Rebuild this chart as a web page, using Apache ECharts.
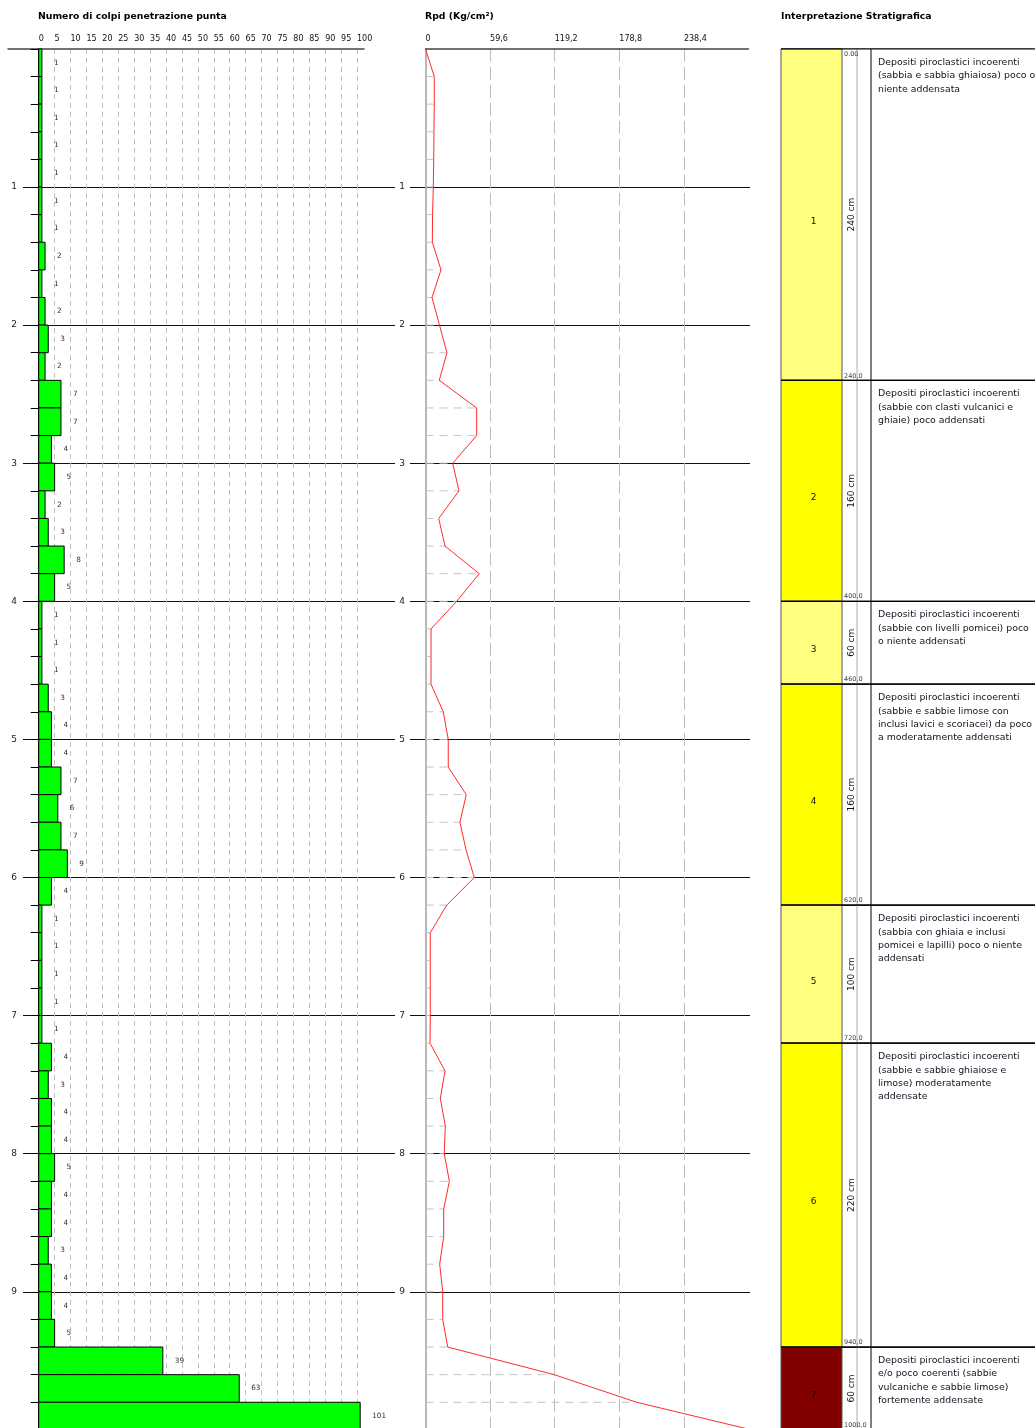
<!DOCTYPE html>
<html><head><meta charset="utf-8">
<script src="https://cdn.jsdelivr.net/npm/echarts@6/dist/echarts.min.js"></script>
<style>html,body{margin:0;padding:0;background:#fff}#c{width:1035px;height:1428px}</style>
</head><body><div id="c"></div>
<script>
// ---- DATA ----
const intervalTop = [0,0.2,0.4,0.6,0.8,1.0,1.2,1.4,1.6,1.8,2.0,2.2,2.4,2.6,2.8,3.0,3.2,3.4,3.6,3.8,4.0,4.2,4.4,4.6,4.8,5.0,5.2,5.4,5.6,5.8,6.0,6.2,6.4,6.6,6.8,7.0,7.2,7.4,7.6,7.8,8.0,8.2,8.4,8.6,8.8,9.0,9.2,9.4,9.6,9.8];
const intervalBottom = [0.2,0.4,0.6,0.8,1.0,1.2,1.4,1.6,1.8,2.0,2.2,2.4,2.6,2.8,3.0,3.2,3.4,3.6,3.8,4.0,4.2,4.4,4.6,4.8,5.0,5.2,5.4,5.6,5.8,6.0,6.2,6.4,6.6,6.8,7.0,7.2,7.4,7.6,7.8,8.0,8.2,8.4,8.6,8.8,9.0,9.2,9.4,9.6,9.8,10.0];
const blows = [1,1,1,1,1, 1,1,2,1,2, 3,2,7,7,4, 5,2,3,8,5, 1,1,1,3,4, 4,7,6,7,9, 4,1,1,1,1, 1,4,3,4,4, 5,4,4,3,4, 4,5,39,63,101];
const rpdDepth = [0,0.2,0.4,0.6,0.8,1.0,1.2,1.4,1.6,1.8,2.0,2.2,2.4,2.6,2.8,3.0,3.2,3.4,3.6,3.8,4.0,4.2,4.4,4.6,4.8,5.0,5.2,5.4,5.6,5.8,6.0,6.2,6.4,6.6,6.8,7.0,7.2,7.4,7.6,7.8,8.0,8.2,8.4,8.6,8.8,9.0,9.2,9.4,9.6,9.8,10.0];
const rpd = [0, 8.1,8.1,7.8,7.6,7.2, 6.5,6.3,14.3,6.0,12.9, 19.8,12.7,47.2,47.2,25.1, 30.9,12.2,18.0,49.6,28.8, 5.1,5.1,5.1,16.4,21.0, 21.0,37.6,31.8,37.4,45.0, 19.6,4.4,4.4,4.4,4.4, 4.2,18.0,13.7,18.3,17.3, 22.0,16.8,16.8,13.1,15.9, 15.9,20.5,118.8,194.8,301];
const blowTicks = [0,5,10,15,20,25,30,35,40,45,50,55,60,65,70,75,80,85,90,95,100];
const rpdTicks = [0,59.6,119.2,178.8,238.4];
const depthLabels = [1,2,3,4,5,6,7,8,9];
const layerNum = [1,2,3,4,5,6,7];
const layerTop = [0,240,400,460,620,720,940];
const layerBottom = [240,400,460,620,720,940,1000];
const layerText = [
 'Depositi piroclastici incoerenti\n(sabbia e sabbia ghiaiosa) poco o\nniente addensata',
 'Depositi piroclastici incoerenti\n(sabbie con clasti vulcanici e\nghiaie) poco addensati',
 'Depositi piroclastici incoerenti\n(sabbie con livelli pomicei) poco\no niente addensati',
 'Depositi piroclastici incoerenti\n(sabbie e sabbie limose con\ninclusi lavici e scoriacei) da poco\na moderatamente addensati',
 'Depositi piroclastici incoerenti\n(sabbia con ghiaia e inclusi\npomicei e lapilli) poco o niente\naddensati',
 'Depositi piroclastici incoerenti\n(sabbie e sabbie ghiaiose e\nlimose) moderatamente\naddensate',
 'Depositi piroclastici incoerenti\ne/o poco coerenti (sabbie\nvulcaniche e sabbie limose)\nfortemente addensate'
];
// ---- STYLE ----
const layerColor = ['#ffff80','#ffff00','#ffff80','#ffff00','#ffff80','#ffff00','#800000'];
const layerNumColor = ['#111','#111','#111','#111','#111','#111','#2a0000'];
const FF = 'DejaVu Sans';
const TOP = 48.9, H = 1381;

const chart = echarts.init(document.getElementById('c'), null, {renderer:'canvas'});
const g = (left, width) => ({left, width, top: TOP, height: H, containLabel:false, outerBoundsMode:'none'});
const hidX = (gi) => ({type:'value', gridIndex:gi, min:0, max:1, show:false});
const hidY = (gi, max) => ({type:'value', gridIndex:gi, min:0, max:max, inverse:true, show:false});
const depthAxis = (gi, margin) => ({type:'value', gridIndex:gi, min:0, max:10, interval:1, inverse:true,
  axisLine:{show:false}, axisTick:{show:false},
  axisLabel:{show:true, margin, fontSize:9, color:'#222', fontFamily:FF,
    formatter: v => depthLabels.indexOf(Math.round(v)) >= 0 ? String(Math.round(v)) : ''},
  splitLine:{show:true, showMinLine:false, showMaxLine:false, lineStyle:{color:'#111', width:1.2}}});
const fmtComma = v => String(Math.round(v*10)/10).replace('.', ',');

const option = {
  animation:false,
  backgroundColor:'#fff',
  title:[
    {text:'Numero di colpi penetrazione punta', left:38, top:12, padding:0, textStyle:{fontSize:9.3, fontWeight:'bold', color:'#000', fontFamily:FF}},
    {text:'Rpd (Kg/cm²)', left:425, top:12, padding:0, textStyle:{fontSize:9.3, fontWeight:'bold', color:'#000', fontFamily:FF}},
    {text:'Interpretazione Stratigrafica', left:781, top:12, padding:0, textStyle:{fontSize:9.3, fontWeight:'bold', color:'#000', fontFamily:FF}}
  ],
  grid:[
    g(38.7, 318.3),   // 0 blows
    g(23, 372),       // 1 left depth lines
    g(8, 356),        // 2 left top line
    g(410, 340),      // 3 middle depth lines
    g(425.5, 323.0),  // 4 rpd
    g(781, 254)       // 5 strat
  ],
  xAxis:[
    {type:'value', gridIndex:0, min:0, max:100, interval:5, position:'top',
     axisLine:{show:false}, axisTick:{show:false},
     axisLabel:{show:true, margin:6, fontSize:8, color:'#111', fontFamily:FF, align:'left',
       formatter: v => blowTicks.indexOf(Math.round(v)) >= 0 ? String(Math.round(v)) : ''},
     splitLine:{show:true, showMinLine:false, showMaxLine:true, lineStyle:{color:'#bdbdbd', type:[5,4], width:1}}},
    hidX(1),
    {type:'value', gridIndex:2, min:0, max:1, position:'top', axisLine:{show:true, lineStyle:{color:'#444', width:1.5}},
     axisTick:{show:false}, axisLabel:{show:false}, splitLine:{show:false}},
    hidX(3),
    {type:'value', gridIndex:4, min:0, max:298, interval:59.6, position:'top',
     axisLine:{show:true, lineStyle:{color:'#444', width:1.5}}, axisTick:{show:false},
     axisLabel:{show:true, margin:6, fontSize:8, color:'#111', fontFamily:FF, align:'left', showMaxLabel:false,
       formatter: v => rpdTicks.some(t => Math.abs(t - v) < 0.01) ? fmtComma(v) : ''},
     splitLine:{show:true, showMinLine:false, showMaxLine:false, lineStyle:{color:'#bdbdbd', type:[13,5], width:1}}},
    {type:'value', gridIndex:5, min:0, max:1, show:false}
  ],
  yAxis:[
    {type:'value', gridIndex:0, min:0, max:10, interval:0.2, inverse:true,
     axisLine:{show:true, lineStyle:{color:'#000', width:1}},
     axisTick:{show:true, length:8, lineStyle:{color:'#000', width:1}},
     axisLabel:{show:false}, splitLine:{show:false}},
    depthAxis(1, 6),
    hidY(2, 10),
    depthAxis(3, 5),
    {type:'value', gridIndex:4, min:0, max:10, inverse:true,
     axisLine:{show:true, lineStyle:{color:'#a0a0a0', width:1.5}}, axisTick:{show:false}, axisLabel:{show:false}, splitLine:{show:false}},
    hidY(5, 1000)
  ],
  series:[
    {type:'custom', xAxisIndex:0, yAxisIndex:0, clip:false,
     data: blows.map((v,i) => [v, intervalTop[i], intervalBottom[i]]),
     encode:{x:0, y:[1,2]},
     renderItem(params, api){
       const v = api.value(0), t = api.value(1), b = api.value(2);
       const p0 = api.coord([0, t]), p1 = api.coord([v, b]);
       return {type:'group', children:[
         {type:'rect', shape:{x:p0[0], y:p0[1], width:p1[0]-p0[0], height:p1[1]-p0[1]},
          style:{fill:'#00ff00', stroke:'#000', lineWidth:1}},
         {type:'text', style:{text:String(v), x:p1[0]+12, y:(p0[1]+p1[1])/2, align:'left', verticalAlign:'middle',
          fontSize:7.3, fill:'#333', fontFamily:FF}}
       ]};
     }},
    {type:'custom', xAxisIndex:4, yAxisIndex:4, clip:true,
     data: rpd.map((v,i) => [v, rpdDepth[i]]).slice(1),
     encode:{x:0, y:1},
     renderItem(params, api){
       const v = api.value(0), d = api.value(1);
       const p0 = api.coord([0, d]), p1 = api.coord([v, d]);
       return {type:'line', shape:{x1:p0[0], y1:p0[1], x2:p1[0], y2:p1[1]},
         style:{stroke:'#c4c4c4', lineWidth:1, lineDash:[8,6]}};
     }},
    {type:'line', xAxisIndex:4, yAxisIndex:4, clip:true, symbol:'none',
     data: rpd.map((v,i) => [v, rpdDepth[i]]),
     lineStyle:{color:'#ff2a2a', width:1}},
    {type:'custom', xAxisIndex:5, yAxisIndex:5, clip:false,
     data: layerNum.map((n,i) => [layerTop[i], layerBottom[i], i]),
     encode:{y:[0,1]},
     renderItem(params, api){
       const t = api.value(0), b = api.value(1), i = api.value(2);
       const cs = params.coordSys;
       const x0 = cs.x, colR = x0 + 61, grayX = x0 + 76, blackX = x0 + 90, right = x0 + cs.width;
       const yT = api.coord([0, t])[1], yB = api.coord([0, b])[1];
       const ch = [
         {type:'rect', shape:{x:x0, y:yT, width:61, height:yB-yT}, style:{fill:layerColor[i], stroke:'#555', lineWidth:1}},
         {type:'line', shape:{x1:grayX, y1:yT, x2:grayX, y2:yB}, style:{stroke:'#c8c8c8', lineWidth:1.5}},
         {type:'line', shape:{x1:blackX, y1:yT, x2:blackX, y2:yB}, style:{stroke:'#000', lineWidth:1}},
         {type:'line', shape:{x1:x0, y1:yT, x2:right, y2:yT}, style:{stroke:'#000', lineWidth:1.2}},
         {type:'line', shape:{x1:x0, y1:yB, x2:right, y2:yB}, style:{stroke:'#000', lineWidth:1.2}},
         {type:'text', style:{text:String(layerNum[i]), x:(x0+colR)/2+2, y:(yT+yB)/2+7, align:'center', verticalAlign:'middle',
           fontSize:9, fill:layerNumColor[i], fontFamily:FF}},
         {type:'text', style:{text:(b).toFixed(1).replace('.', ','), x:colR+2, y:yB-1, align:'left', verticalAlign:'bottom',
           fontSize:6.5, fill:'#444', fontFamily:FF}},
         {type:'text', x:colR+10, y:(yT+yB)/2, rotation:Math.PI/2,
           style:{text:(b-t)+' cm', x:0, y:0, align:'center', verticalAlign:'middle', fontSize:9, fill:'#111', fontFamily:FF}},
         {type:'text', style:{text:layerText[i], x:blackX+7, y:yT+7, align:'left', verticalAlign:'top',
           fontSize:9.4, lineHeight:13.3, fill:'#15121f', fontFamily:FF}}
       ];
       if (i === 0) ch.push({type:'text', style:{text:'0.00', x:colR+2, y:yT+2, align:'left', verticalAlign:'top',
           fontSize:6.5, fill:'#444', fontFamily:FF}});
       return {type:'group', children:ch};
     }}
  ]
};
chart.setOption(option);
</script>
</body></html>
